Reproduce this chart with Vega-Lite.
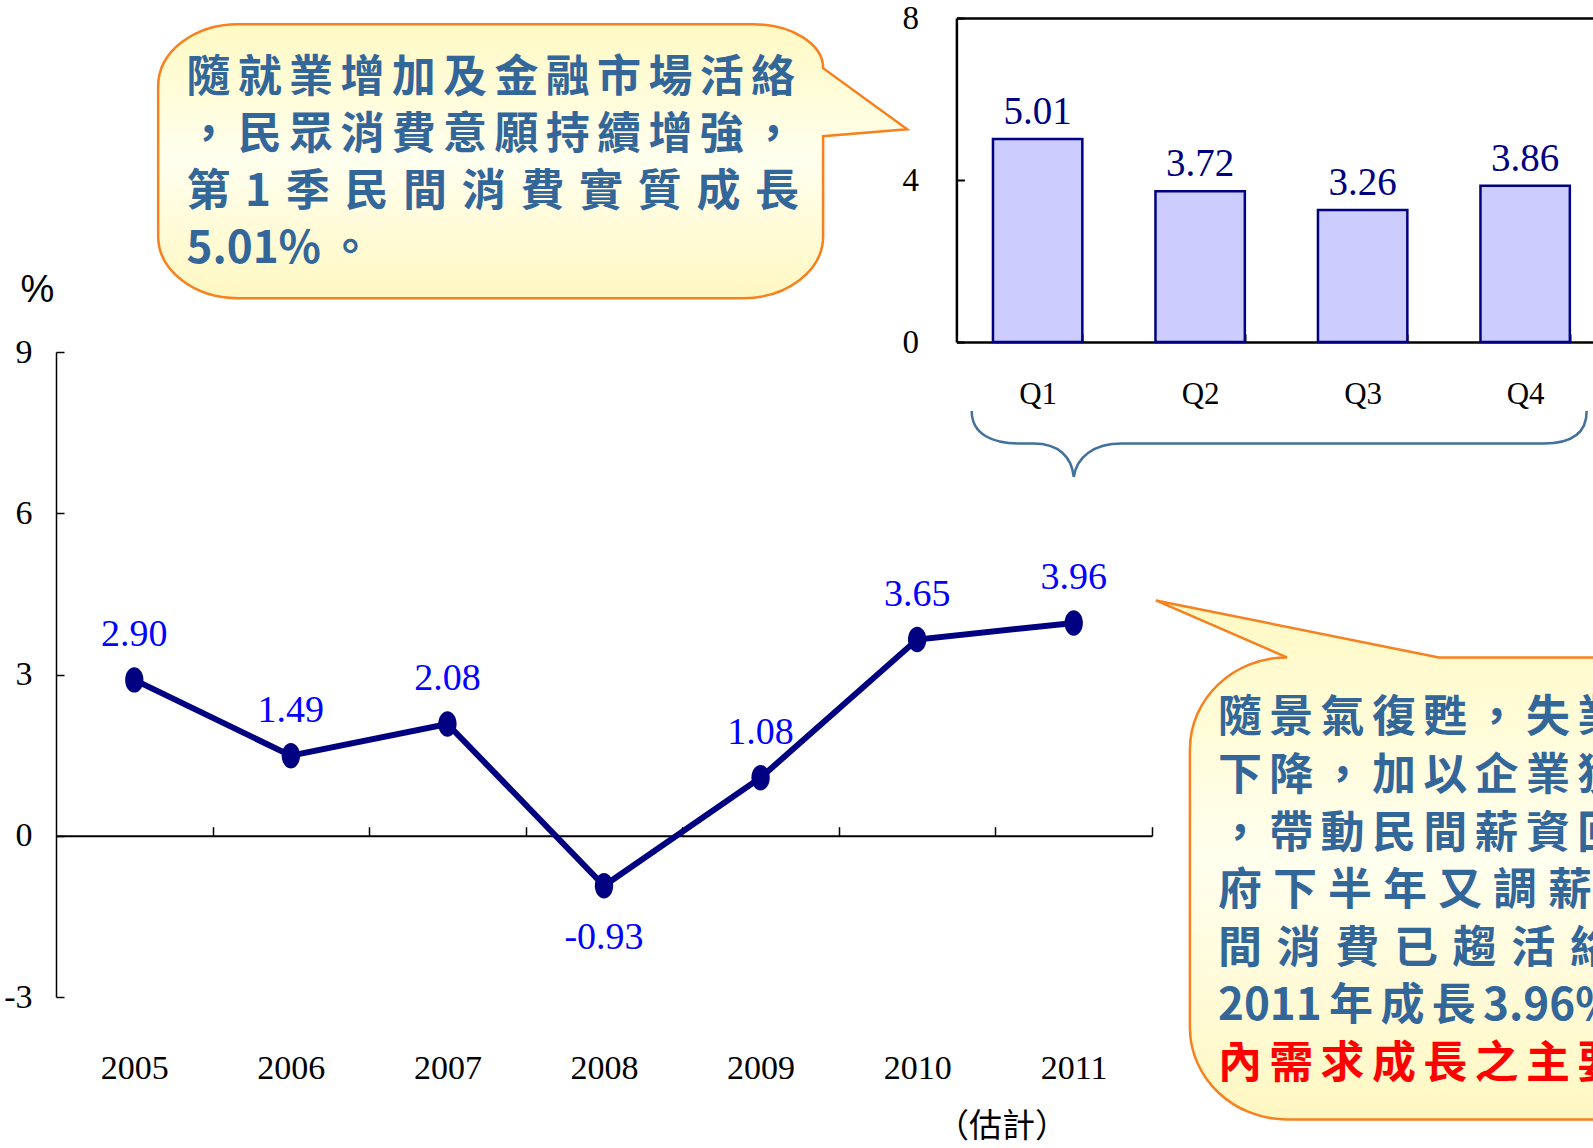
{
  "$schema": "https://vega.github.io/schema/vega-lite/v6.json",
  "background": "white",
  "padding": {"left": 3, "top": 2, "right": 0, "bottom": 0},
  "bounds": "flush",
  "spacing": 10,
  "config": {
    "view": {"stroke": null},
    "axis": {"grid": false},
    "locale": {"number": {"decimal": ".", "thousands": ",", "grouping": [3], "currency": ["$", ""], "minus": "-"}}
  },
  "datasets": {
    "gdp": [
      {"year": 2005, "value": 2.90},
      {"year": 2006, "value": 1.49},
      {"year": 2007, "value": 2.08},
      {"year": 2008, "value": -0.93},
      {"year": 2009, "value": 1.08},
      {"year": 2010, "value": 3.65},
      {"year": 2011, "value": 3.96}
    ],
    "quarters": [
      {"q": "Q1", "v": 5.01},
      {"q": "Q2", "v": 3.72},
      {"q": "Q3", "v": 3.26},
      {"q": "Q4", "v": 3.86}
    ]
  },
  "vconcat": [
    {
      "width": 1550,
      "height": 324,
      "data": {"name": "quarters"},
      "resolve": {"axis": {"x": "independent", "y": "independent"}},
      "layer": [
        {
          "mark": {"type": "bar", "fill": "#CCCCFF", "stroke": "#000080", "strokeWidth": 2.5},
          "encoding": {
            "x": {
              "field": "q", "type": "nominal",
              "scale": {"range": [900.4, 1550.4], "paddingInner": 0.45, "paddingOuter": 0.225},
              "axis": {
                "orient": "bottom", "title": null, "domain": true, "domainColor": "black", "domainWidth": 2.5,
                "ticks": true, "tickBand": "extent", "tickSize": -8, "tickColor": "black", "tickWidth": 2,
                "labelFont": "Liberation Serif", "labelFontSize": 31, "labelColor": "black",
                "labelPadding": 60, "labelBaseline": "middle", "labelAngle": 0
              }
            },
            "y": {
              "field": "v", "type": "quantitative",
              "scale": {"domain": [0, 8], "nice": false, "zero": false},
              "axis": {
                "orient": "left", "offset": -900.4,
                "title": null, "values": [0, 4, 8], "domain": true, "domainColor": "black", "domainWidth": 2.5,
                "tickSize": -8, "tickColor": "black", "tickWidth": 2,
                "labelFont": "Liberation Serif", "labelFontSize": 33, "labelColor": "black",
                "labelPadding": 46, "labelFlush": false, "labelOverlap": false
              }
            }
          }
        },
        {
          "mark": {"type": "text", "baseline": "alphabetic", "dy": -15, "font": "Liberation Serif", "fontSize": 39, "color": "#000080"},
          "encoding": {
            "x": {"field": "q", "type": "nominal", "scale": {"range": [900.4, 1550.4], "paddingInner": 0.45, "paddingOuter": 0.225}, "axis": null},
            "y": {"field": "v", "type": "quantitative", "scale": {"domain": [0, 8], "nice": false, "zero": false}, "axis": null},
            "text": {"field": "v", "type": "quantitative", "format": ".2f"}
          }
        },
        {
          "mark": {"type": "bar", "opacity": 0},
          "encoding": {
            "x": {
              "field": "q", "type": "nominal",
              "scale": {"range": [900.4, 1550.4], "paddingInner": 0.45, "paddingOuter": 0.225},
              "axis": {"orient": "top", "title": null, "labels": false, "ticks": false, "domain": true, "domainColor": "black", "domainWidth": 2.5}
            },
            "y": {"field": "v", "type": "quantitative", "scale": {"domain": [0, 8], "nice": false, "zero": false}, "axis": null}
          }
        }
      ]
    },
    {
      "width": 1096,
      "height": 645,
      "resolve": {"axis": {"x": "independent", "y": "independent"}},
      "layer": [
        {
          "data": {"values": [{"k": 1}]},
          "mark": {
            "type": "point",
            "shape": "M -2.525 -1.37 L 2.625 -1.37 C 3.0116 -1.37 3.325 -1.173 3.325 -0.93 L 4.165 -0.32 L 3.325 -0.25 L 3.325 0.75 C 3.325 1.0924 2.9668 1.37 2.525 1.37 L -2.525 1.37 C -2.9668 1.37 -3.325 1.0924 -3.325 0.75 L -3.325 -0.75 C -3.325 -1.0924 -2.9668 -1.37 -2.525 -1.37 Z",
            "size": 40000, "filled": true, "opacity": 1,
            "fill": {"gradient": "linear", "x1": 0, "y1": 0, "x2": 0, "y2": 1, "stops": [{"offset": 0, "color": "#FFF9C4"}, {"offset": 0.5, "color": "#FFFFEE"}, {"offset": 1, "color": "#FFF7C2"}]},
            "stroke": "#F7801F", "strokeWidth": 2.5
          },
          "encoding": {
            "x": {"datum": 2007.276, "type": "quantitative", "scale": {"domain": [2004.5, 2011.5], "nice": false, "zero": false}, "axis": null},
            "y": {"datum": 12.55, "type": "quantitative", "scale": {"domain": [-3, 9], "nice": false, "zero": false}, "axis": null}
          }
        },
        {
          "data": {"values": [{"k": 1}]},
          "mark": {
            "type": "text", "align": "left", "baseline": "alphabetic", "lineHeight": 57,
            "font": "Noto Sans CJK TC", "fontSize": 44, "fontWeight": "bold", "color": "#336699",
            "text": [
              "隨\u2006就\u2006業\u2006增\u2006加\u2006及\u2006金\u2006融\u2006市\u2006場\u2006活\u2006絡",
              "，\u2006民\u2006眾\u2006消\u2006費\u2006意\u2006願\u2006持\u2006續\u2006增\u2006強\u2006，",
              "第\u20041\u2004季\u2004民\u2004間\u2004消\u2004費\u2004實\u2004質\u2004成\u2004長",
              "5.01%\u2006。"
            ]
          },
          "encoding": {
            "x": {"datum": 2005.333, "type": "quantitative", "scale": {"domain": [2004.5, 2011.5], "nice": false, "zero": false}, "axis": null},
            "y": {"datum": 13.835, "type": "quantitative", "scale": {"domain": [-3, 9], "nice": false, "zero": false}, "axis": null}
          }
        },
        {
          "data": {"values": [{"k": 1}]},
          "mark": {
            "type": "point",
            "shape": "M 0 0 L 2.83 0.57 L 6.5 0.57 L 6.5 5.19 L 1.31 5.19 C 0.7743 5.19 0.34 4.7781 0.34 4.27 L 0.34 1.49 C 0.34 0.9819 0.7743 0.57 1.31 0.57 Z",
            "size": 40000, "filled": true, "opacity": 1,
            "fill": {"gradient": "linear", "x1": 0, "y1": 0, "x2": 0, "y2": 1, "stops": [{"offset": 0, "color": "#FFF9C4"}, {"offset": 0.5, "color": "#FFFFEE"}, {"offset": 1, "color": "#FFF7C2"}]},
            "stroke": "#F7801F", "strokeWidth": 2.5
          },
          "encoding": {
            "x": {"datum": 2011.525, "type": "quantitative", "scale": {"domain": [2004.5, 2011.5], "nice": false, "zero": false}, "axis": null},
            "y": {"datum": 4.378, "type": "quantitative", "scale": {"domain": [-3, 9], "nice": false, "zero": false}, "axis": null}
          }
        },
        {
          "data": {"values": [{"k": 1}]},
          "mark": {
            "type": "text", "align": "left", "baseline": "alphabetic", "lineHeight": 57.6,
            "font": "Noto Sans CJK TC", "fontSize": 44, "fontWeight": "bold", "color": "#336699",
            "text": [
              "隨\u2006景\u2006氣\u2006復\u2006甦\u2006，\u2006失\u2006業\u2006率",
              "下\u2006降\u2006，\u2006加\u2006以\u2006企\u2006業\u2006獲\u2006利",
              "，\u2006帶\u2006動\u2006民\u2006間\u2006薪\u2006資\u2006回\u2006升",
              "府\u2005下\u2005半\u2005年\u2005又\u2005調\u2005薪\u20053%",
              "間\u2004消\u2004費\u2004已\u2004趨\u2004活\u2004絡\u2004，",
              "2011\u2006年\u2006成\u2006長\u20063.96%"
            ]
          },
          "encoding": {
            "x": {"datum": 2011.921, "type": "quantitative", "scale": {"domain": [2004.5, 2011.5], "nice": false, "zero": false}, "axis": null},
            "y": {"datum": 1.923, "type": "quantitative", "scale": {"domain": [-3, 9], "nice": false, "zero": false}, "axis": null}
          }
        },
        {
          "data": {"values": [{"k": 1}]},
          "mark": {
            "type": "text", "align": "left", "baseline": "alphabetic",
            "font": "Noto Sans CJK TC", "fontSize": 44, "fontWeight": "bold", "color": "#FF0000",
            "text": "內\u2006需\u2006求\u2006成\u2006長\u2006之\u2006主\u2006要\u2006動\u2006力"
          },
          "encoding": {
            "x": {"datum": 2011.921, "type": "quantitative", "scale": {"domain": [2004.5, 2011.5], "nice": false, "zero": false}, "axis": null},
            "y": {"datum": -4.5, "type": "quantitative", "scale": {"domain": [-3, 9], "nice": false, "zero": false}, "axis": null}
          }
        },
        {
          "data": {"values": [{"k": 1}]},
          "mark": {
            "type": "point",
            "shape": "M -1.02 -0.66 C -1.02 -0.42 -0.8 -0.335 -0.55 -0.335 L -0.4 -0.335 C -0.15 -0.335 -0.02 -0.2 0 0 C 0.03 -0.2 0.2 -0.335 0.48 -0.335 L 4.7 -0.335 C 4.95 -0.335 5.13 -0.42 5.13 -0.66",
            "size": 40000, "filled": false, "opacity": 1, "fill": null,
            "stroke": "#41719C", "strokeWidth": 2.5
          },
          "encoding": {
            "x": {"datum": 2011, "type": "quantitative", "scale": {"domain": [2004.5, 2011.5], "nice": false, "zero": false}, "axis": null},
            "y": {"datum": 6.675, "type": "quantitative", "scale": {"domain": [-3, 9], "nice": false, "zero": false}, "axis": null}
          }
        },
        {
          "data": {"values": [{"k": 1}]},
          "mark": {
            "type": "text", "align": "center", "baseline": "middle",
            "font": "Noto Sans CJK TC", "fontSize": 33, "color": "black",
            "text": "（估計）"
          },
          "encoding": {
            "x": {"datum": 2010.542, "type": "quantitative", "scale": {"domain": [2004.5, 2011.5], "nice": false, "zero": false}, "axis": null},
            "y": {"datum": -5.423, "type": "quantitative", "scale": {"domain": [-3, 9], "nice": false, "zero": false}, "axis": null}
          }
        },
        {
          "data": {"name": "gdp"},
          "mark": {"type": "line", "stroke": "#000080", "strokeWidth": 6},
          "encoding": {
            "x": {
              "field": "year", "type": "quantitative",
              "scale": {"domain": [2004.5, 2011.5], "nice": false, "zero": false},
              "axis": {
                "orient": "bottom",
                "title": null, "values": [2005, 2006, 2007, 2008, 2009, 2010, 2011], "format": "d",
                "domain": false, "ticks": false,
                "labelFont": "Liberation Serif", "labelFontSize": 34, "labelColor": "black",
                "labelPadding": 71, "labelBaseline": "middle", "labelFlush": false, "labelOverlap": false
              }
            },
            "y": {
              "field": "value", "type": "quantitative",
              "scale": {"domain": [-3, 9], "nice": false, "zero": false},
              "axis": {
                "orient": "left",
                "values": [-3, 0, 3, 6, 9],
                "title": "%", "titleAngle": 0, "titleX": -19, "titleY": -62, "titleAlign": "center", "titleBaseline": "middle",
                "titleFont": "Liberation Sans", "titleFontSize": 38, "titleFontWeight": "normal", "titleColor": "black",
                "domain": true, "domainColor": "black", "domainWidth": 1.5,
                "tickSize": -8, "tickColor": "black", "tickWidth": 1.5,
                "labelFont": "Liberation Serif", "labelFontSize": 34, "labelColor": "black",
                "labelPadding": 32, "labelFlush": false, "labelOverlap": false
              }
            }
          }
        },
        {
          "data": {"name": "gdp"},
          "mark": {
            "type": "point",
            "shape": "M 0 -1 C 0.3976 -1 0.72 -0.5523 0.72 0 C 0.72 0.5523 0.3976 1 0 1 C -0.3976 1 -0.72 0.5523 -0.72 0 C -0.72 -0.5523 -0.3976 -1 0 -1 Z",
            "size": 650, "filled": true, "fill": "#000080", "opacity": 1
          },
          "encoding": {
            "x": {
              "field": "year", "type": "quantitative",
              "scale": {"domain": [2004.5, 2011.5], "nice": false, "zero": false},
              "axis": {
                "orient": "bottom",
                "title": null, "values": [2005.5, 2006.5, 2007.5, 2008.5, 2009.5, 2010.5, 2011.5],
                "labels": false, "domain": true, "domainColor": "black", "domainWidth": 2,
                "ticks": true, "tickSize": -9, "tickColor": "black", "tickWidth": 1.5,
                "offset": -161.3
              }
            },
            "y": {"field": "value", "type": "quantitative", "scale": {"domain": [-3, 9], "nice": false, "zero": false}, "axis": null}
          }
        },
        {
          "data": {"name": "gdp"},
          "transform": [{"filter": "datum.value >= 0"}],
          "mark": {"type": "text", "baseline": "middle", "dy": -45, "font": "Liberation Serif", "fontSize": 38, "color": "#0000FF"},
          "encoding": {
            "x": {"field": "year", "type": "quantitative", "scale": {"domain": [2004.5, 2011.5], "nice": false, "zero": false}, "axis": null},
            "y": {"field": "value", "type": "quantitative", "scale": {"domain": [-3, 9], "nice": false, "zero": false}, "axis": null},
            "text": {"field": "value", "type": "quantitative", "format": ".2f"},
            "fontWeight": {"condition": {"test": "datum.year === 2011", "value": "bold"}, "value": "normal"}
          }
        },
        {
          "data": {"name": "gdp"},
          "transform": [{"filter": "datum.value < 0"}],
          "mark": {"type": "text", "baseline": "middle", "dy": 52, "font": "Liberation Serif", "fontSize": 38, "color": "#0000FF"},
          "encoding": {
            "x": {"field": "year", "type": "quantitative", "scale": {"domain": [2004.5, 2011.5], "nice": false, "zero": false}, "axis": null},
            "y": {"field": "value", "type": "quantitative", "scale": {"domain": [-3, 9], "nice": false, "zero": false}, "axis": null},
            "text": {"field": "value", "type": "quantitative", "format": ".2f"}
          }
        }
      ]
    }
  ]
}
